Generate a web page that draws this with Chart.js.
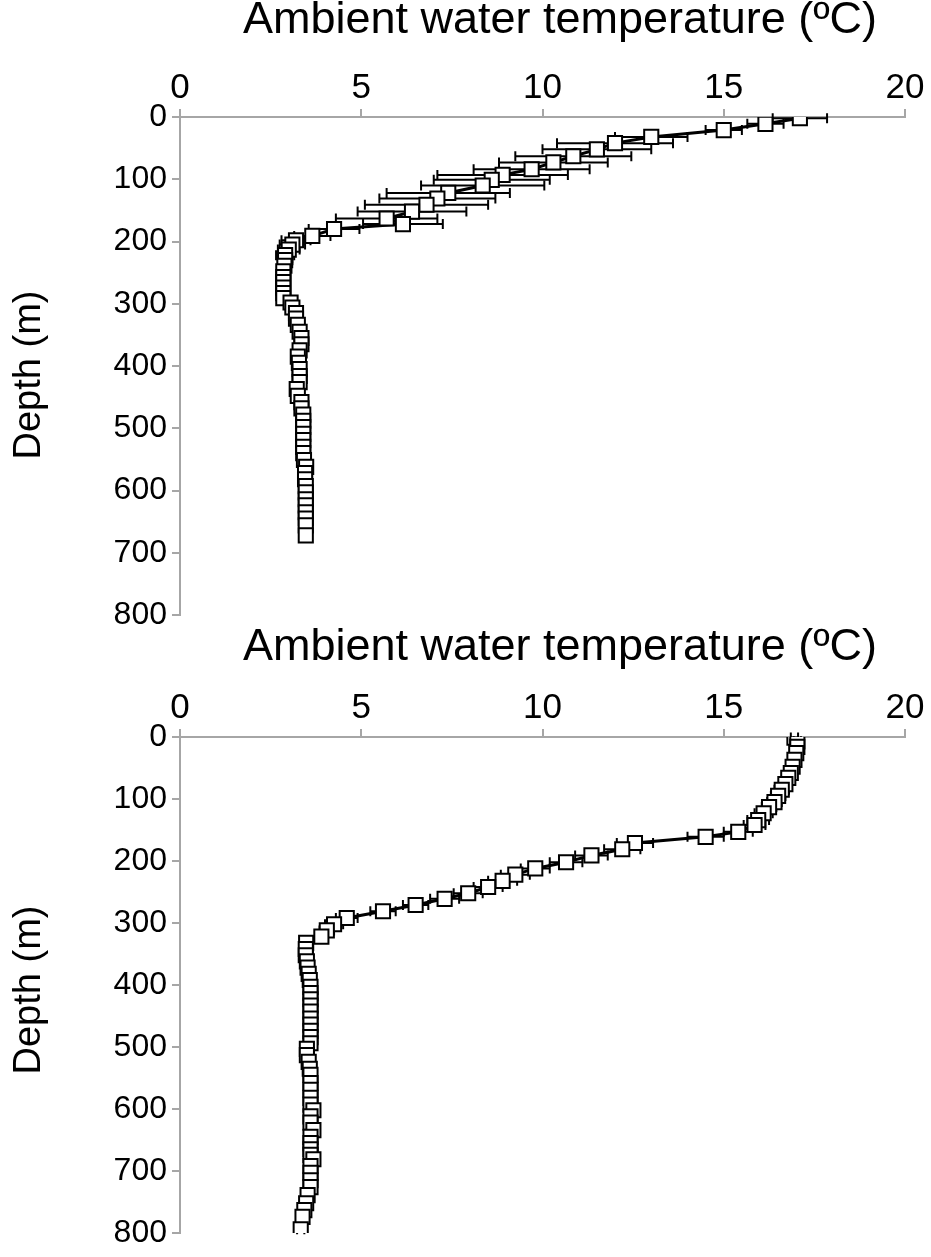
<!DOCTYPE html>
<html><head><meta charset="utf-8">
<script src="https://cdn.jsdelivr.net/npm/chart.js@4.4.0/dist/chart.umd.min.js"></script>
<style>
html,body{margin:0;padding:0;background:#fff;}
#wrap{position:relative;width:931px;height:1257px;overflow:hidden;background:#fff;}
canvas{position:absolute;left:0;}
#c1{top:0;width:931px;height:640px;}
#c2{top:628px;width:931px;height:629px;}
</style></head><body>
<div id="wrap"><canvas id="c1" width="931" height="640"></canvas><canvas id="c2" width="931" height="629"></canvas></div>
<script>
const xTicks = [0, 5, 10, 15, 20];
const yTicks = [0, 100, 200, 300, 400, 500, 600, 700, 800];
const xTitle = 'Ambient water temperature (ºC)';
const yTitle = 'Depth (m)';

// Top profile
const depthTop = [2, 11, 21, 32, 42, 52, 63, 73, 84, 93,
  101, 110, 122, 131, 141, 152, 163, 172, 180, 191,
  198, 205, 213, 222, 230, 239, 248, 257, 265, 274,
  283, 291, 298, 306, 315, 324, 334, 345, 355, 365,
  375, 385, 395, 405, 416, 426, 437, 448, 458, 468,
  478, 488, 498, 509, 519, 530, 540, 551, 562, 572,
  582, 593, 603, 614, 624, 635, 645, 656, 672];
const tempTop = [17.1, 16.15, 15.0, 13.0, 12.0, 11.5, 10.85, 10.3, 9.7, 8.9,
  8.6, 8.35, 7.4, 7.1, 6.8, 6.4, 5.7, 6.15, 4.25, 3.65,
  3.2, 3.1, 3.0, 2.9, 2.9, 2.88, 2.85, 2.85, 2.85, 2.85,
  2.85, 2.85, 3.05, 3.1, 3.2, 3.2, 3.25, 3.3, 3.35, 3.35,
  3.3, 3.25, 3.28, 3.3, 3.3, 3.3, 3.22, 3.25, 3.35, 3.35,
  3.4, 3.4, 3.4, 3.4, 3.4, 3.4, 3.4, 3.42, 3.48, 3.45,
  3.45, 3.47, 3.47, 3.47, 3.47, 3.47, 3.47, 3.47, 3.47];
const errTop = [0.75, 0.5, 0.5, 1.0, 1.6, 1.5, 1.6, 1.5, 1.6, 1.8,
  1.6, 1.7, 1.7, 1.6, 1.7, 1.5, 1.4, 1.1, 0.7, 0.5,
  0.4, 0.35, 0.3, 0.25, 0.2, 0.15, 0.15, 0.1, 0.1, 0.1,
  0.1, 0.1, 0.1, 0.1, 0.1, 0.1, 0.1, 0.1, 0.1, 0.1,
  0.1, 0.1, 0.1, 0.1, 0.1, 0.1, 0.1, 0.1, 0.1, 0.1,
  0.1, 0.1, 0.1, 0.1, 0.1, 0.1, 0.1, 0.1, 0.1, 0.1,
  0.1, 0.1, 0.1, 0.1, 0.1, 0.1, 0.1, 0.1, 0.1];

// Bottom profile
const depthBot = [1, 7, 16, 26, 37, 48, 58, 66, 76, 85,
  95, 105, 113, 123, 134, 142, 153, 161, 171, 181,
  191, 202, 212, 222, 232, 242, 252, 261, 271, 281,
  292, 302, 312, 322, 332, 342, 352, 362, 372, 382,
  392, 403, 413, 423, 433, 443, 454, 464, 474, 484,
  494, 503, 513, 524, 535, 545, 558, 569, 582, 593,
  602, 612, 622, 634, 645, 655, 665, 674, 681, 692,
  703, 715, 726, 739, 752, 763, 774, 794];
const tempBot = [16.95, 17.03, 17.03, 17.0, 16.95, 16.9, 16.85, 16.78, 16.7, 16.6,
  16.5, 16.4, 16.25, 16.1, 15.95, 15.85, 15.4, 14.5, 12.55, 12.2,
  11.35, 10.65, 9.8, 9.25, 8.9, 8.5, 7.95, 7.3, 6.5, 5.6,
  4.6, 4.25, 4.05, 3.9, 3.48, 3.47, 3.47, 3.5, 3.52, 3.55,
  3.58, 3.6, 3.6, 3.6, 3.6, 3.6, 3.6, 3.6, 3.6, 3.6,
  3.6, 3.5, 3.5, 3.55, 3.58, 3.6, 3.6, 3.6, 3.6, 3.6,
  3.68, 3.6, 3.6, 3.68, 3.6, 3.6, 3.6, 3.6, 3.68, 3.6,
  3.6, 3.6, 3.6, 3.52, 3.48, 3.43, 3.38, 3.33];
const errBot = [0.1, 0.1, 0.1, 0.1, 0.1, 0.1, 0.15, 0.15, 0.15, 0.2,
  0.2, 0.2, 0.2, 0.25, 0.3, 0.3, 0.4, 0.5, 0.5, 0.5,
  0.45, 0.45, 0.4, 0.4, 0.4, 0.4, 0.4, 0.4, 0.35, 0.35,
  0.3, 0.25, 0.2, 0.15, 0.1, 0.1, 0.1, 0.1, 0.1, 0.1,
  0.1, 0.1, 0.1, 0.1, 0.1, 0.1, 0.1, 0.1, 0.1, 0.1,
  0.1, 0.1, 0.1, 0.1, 0.1, 0.1, 0.1, 0.1, 0.1, 0.1,
  0.1, 0.1, 0.1, 0.1, 0.1, 0.1, 0.1, 0.1, 0.1, 0.1,
  0.1, 0.1, 0.1, 0.1, 0.1, 0.1, 0.1, 0.1];

const FONT = "'Liberation Sans', Arial, sans-serif";
const AXIS_GRAY = '#a6a6a6';

const errorBars = {
  id: 'errorBars',
  beforeDatasetsDraw(chart, args, opts) {
    const {ctx, scales: {x, y}} = chart;
    const errs = opts.errors || [];
    const pts = chart.data.datasets[0].data;
    ctx.save();
    ctx.strokeStyle = '#000';
    ctx.lineWidth = 2;
    pts.forEach((p, i) => {
      const e = errs[i];
      if (!e) return;
      const py = y.getPixelForValue(p.y);
      const x1 = x.getPixelForValue(p.x - e);
      const x2 = x.getPixelForValue(p.x + e);
      ctx.beginPath();
      ctx.moveTo(x1, py); ctx.lineTo(x2, py);
      ctx.moveTo(x1, py - 5); ctx.lineTo(x1, py + 5);
      ctx.moveTo(x2, py - 5); ctx.lineTo(x2, py + 5);
      ctx.stroke();
    });
    ctx.restore();
  }
};

const axisTitles = {
  id: 'axisTitles',
  afterDraw(chart, args, o) {
    const ctx = chart.ctx;
    ctx.save();
    ctx.fillStyle = '#000';
    ctx.textAlign = 'center';
    ctx.textBaseline = 'middle';
    ctx.font = '45px ' + FONT;
    ctx.fillText(o.xText, o.xPos[0], o.xPos[1]);
    ctx.translate(o.yPos[0], o.yPos[1]);
    ctx.rotate(-Math.PI / 2);
    ctx.font = '38px ' + FONT;
    ctx.fillText(o.yText, 0, 0);
    ctx.restore();
  }
};

function makeChart(id, depths, temps, errs, topH, padBottom, xPos, yPos) {
  const pts = depths.map((d, i) => ({x: temps[i], y: d}));
  return new Chart(document.getElementById(id), {
    type: 'scatter',
    data: {datasets: [{
      data: pts,
      showLine: true,
      borderColor: '#000',
      borderWidth: 3,
      pointStyle: 'rect',
      pointRadius: 10,
      pointBorderWidth: 2,
      pointBorderColor: '#000',
      pointBackgroundColor: '#fff',
      tension: 0
    }]},
    options: {
      responsive: false,
      animation: false,
      events: [],
      layout: {padding: {left: 0, right: 26, top: 0, bottom: padBottom}},
      plugins: {
        legend: {display: false}, tooltip: {enabled: false},
        errorBars: {errors: errs},
        axisTitles: {xText: xTitle, yText: yTitle, xPos: xPos, yPos: yPos}
      },
      scales: {
        x: {
          type: 'linear', position: 'top', min: 0, max: 20,
          afterBuildTicks: s => { s.ticks = xTicks.map(v => ({value: v})); },
          afterFit: s => { s.height = topH; },
          grid: {drawOnChartArea: false, drawTicks: true, tickLength: 8, color: AXIS_GRAY, lineWidth: 2},
          border: {display: true, color: AXIS_GRAY, width: 2},
          ticks: {color: '#000', padding: 0, maxRotation: 0, font: {family: FONT, size: 35, lineHeight: 1.2}},
          title: {display: false}
        },
        y: {
          type: 'linear', reverse: true, min: 0, max: 800,
          afterBuildTicks: s => { s.ticks = yTicks.map(v => ({value: v})); },
          afterFit: s => { s.width = 180; },
          grid: {drawOnChartArea: false, drawTicks: true, tickLength: 8, color: AXIS_GRAY, lineWidth: 2},
          border: {display: true, color: AXIS_GRAY, width: 2},
          ticks: {color: '#000', padding: 5, font: {family: FONT, size: 32, lineHeight: 1}},
          title: {display: false}
        }
      }
    },
    plugins: [errorBars, axisTitles]
  });
}

makeChart('c1', depthTop, tempTop, errTop, 117, 25, [560, 21], [30, 375]);
makeChart('c2', depthBot, tempBot, errBot, 109, 24, [560, 20], [30, 362]);
</script>
</body></html>
